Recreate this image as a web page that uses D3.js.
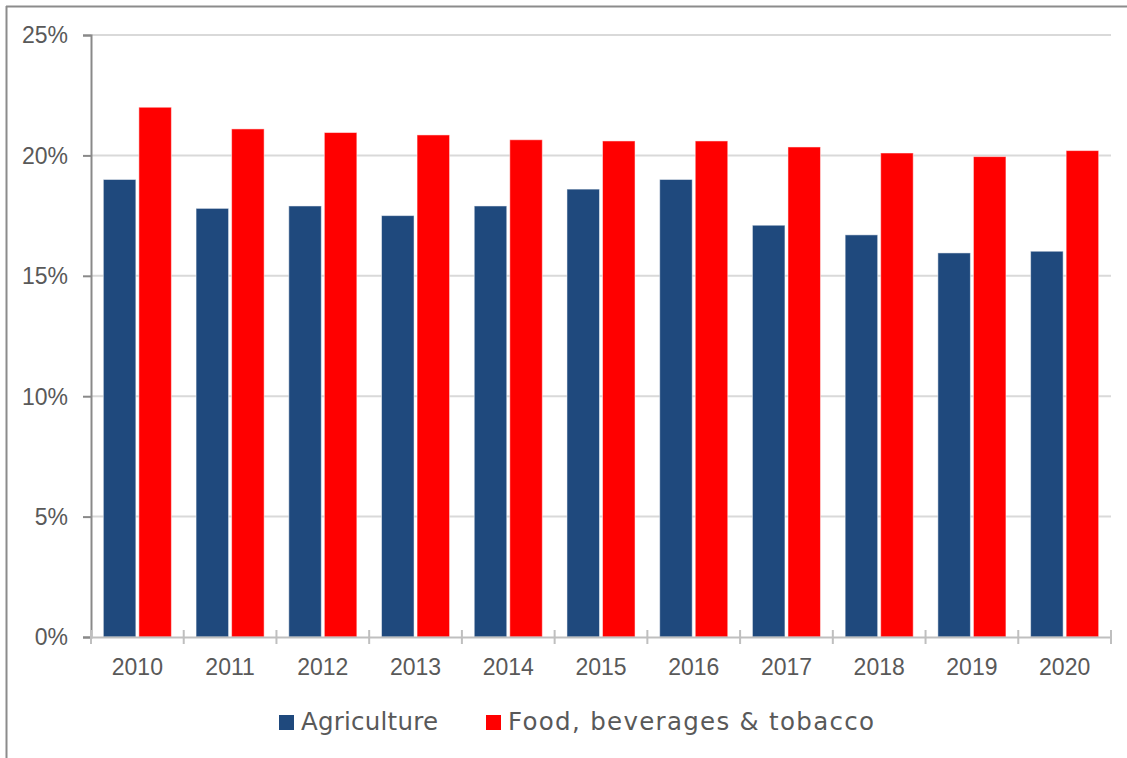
<!DOCTYPE html>
<html>
<head>
<meta charset="utf-8">
<script src="https://cdn.jsdelivr.net/npm/d3@7"></script>
<style>
  html, body { margin: 0; padding: 0; background: #ffffff; }
  svg { display: block; }
</style>
</head>
<body>
<svg id="chart" width="1127" height="758"></svg>
<script>
const years = ["2010","2011","2012","2013","2014","2015","2016","2017","2018","2019","2020"];
const seriesNames = ["Agriculture", "Food, beverages & tobacco"];
const agriculture = [19.0, 17.8, 17.9, 17.5, 17.9, 18.6, 19.0, 17.1, 16.7, 15.95, 16.02];
const foodBevTobacco = [22.0, 21.1, 20.95, 20.85, 20.65, 20.6, 20.6, 20.35, 20.1, 19.95, 20.2];
const yTicks = [0, 5, 10, 15, 20, 25];
const colors = ["#1F497D", "#FF0000"];

const svg = d3.select("#chart");
const W = 1127, H = 758;
const mLeft = 91, mRight = 1111, mTop = 35, mBottom = 637;
const FONT = "'Liberation Sans', Arial, sans-serif";
const LEGEND_FONT = "'DejaVu Sans', sans-serif";

// outer border (only top and left visible)
svg.append("line").attr("x1", 6).attr("x2", W).attr("y1", 6.5).attr("y2", 6.5)
  .attr("stroke", "#8c8c8c").attr("stroke-width", 2);
svg.append("line").attr("x1", 6.5).attr("x2", 6.5).attr("y1", 6).attr("y2", H)
  .attr("stroke", "#8c8c8c").attr("stroke-width", 2);

const x0 = d3.scaleBand().domain(years).range([mLeft, mRight]).paddingInner(0).paddingOuter(0);
const x1 = d3.scaleBand().domain(seriesNames).range([0, x0.bandwidth()])
  .paddingInner(0.085).paddingOuter(0.347);
const y = d3.scaleLinear().domain([0, 25]).range([mBottom, mTop]);

// gridlines
svg.append("g").selectAll("line").data(yTicks.filter(d => d > 0)).join("line")
  .attr("x1", mLeft).attr("x2", mRight)
  .attr("y1", d => y(d)).attr("y2", d => y(d))
  .attr("stroke", "#d9d9d9").attr("stroke-width", 2);

// bars
const data = years.map((yr, i) => ({ year: yr, values: [agriculture[i], foodBevTobacco[i]] }));
const groups = svg.append("g").selectAll("g").data(data).join("g")
  .attr("transform", d => `translate(${x0(d.year)},0)`);
groups.selectAll("rect").data(d => d.values.map((v, j) => ({ name: seriesNames[j], v, j }))).join("rect")
  .attr("x", d => x1(d.name))
  .attr("width", x1.bandwidth())
  .attr("y", d => y(d.v))
  .attr("height", d => y(0) - y(d.v))
  .attr("fill", d => colors[d.j])
  .attr("stroke", "#ffffff").attr("stroke-opacity", 0.5).attr("stroke-width", 1);

// y axis
const yAxis = d3.axisLeft(y).tickValues(yTicks).tickFormat(d => d + "%").tickSize(8).tickPadding(15);
const gy = svg.append("g").attr("transform", `translate(${mLeft},0)`).call(yAxis);
gy.select(".domain").attr("stroke", "#898989").attr("stroke-width", 2);
gy.selectAll(".tick line").attr("stroke", "#898989").attr("stroke-width", 2);
gy.selectAll(".tick text").style("font-size", "23px").style("font-family", FONT)
  .attr("fill", "#595959").attr("dy", "0.34em");

// x axis
const xAxis = d3.axisBottom(x0).tickSize(0).tickPadding(22);
const gx = svg.append("g").attr("transform", `translate(0,${mBottom})`).call(xAxis);
gx.select(".domain").attr("stroke", "#bfbfbf").attr("stroke-width", 2);
gx.selectAll(".tick text").style("font-size", "23px").style("font-family", FONT)
  .attr("fill", "#595959");
// band boundary ticks
const boundaries = years.map(d => x0(d)).concat([x0(years[years.length - 1]) + x0.bandwidth()]);
svg.append("g").selectAll("line").data(boundaries).join("line")
  .attr("x1", d => d).attr("x2", d => d)
  .attr("y1", mBottom - 7).attr("y2", mBottom + 7)
  .attr("stroke", "#bfbfbf").attr("stroke-width", 2);

// legend
const legendItems = [
  { name: seriesNames[0], color: colors[0], x: 279, w: 137 },
  { name: seriesNames[1], color: colors[1], x: 486, w: 366 }
];
const lg = svg.append("g").selectAll("g").data(legendItems).join("g")
  .attr("transform", d => `translate(${d.x},0)`);
lg.append("rect").attr("x", 0).attr("y", 715).attr("width", 15).attr("height", 15).attr("fill", d => d.color);
lg.append("text").attr("x", 22).attr("y", 730)
  .style("font-size", "24.5px").style("font-family", LEGEND_FONT).attr("fill", "#595959")
  .attr("textLength", d => d.w).attr("lengthAdjust", "spacing").text(d => d.name);
</script>
</body>
</html>
